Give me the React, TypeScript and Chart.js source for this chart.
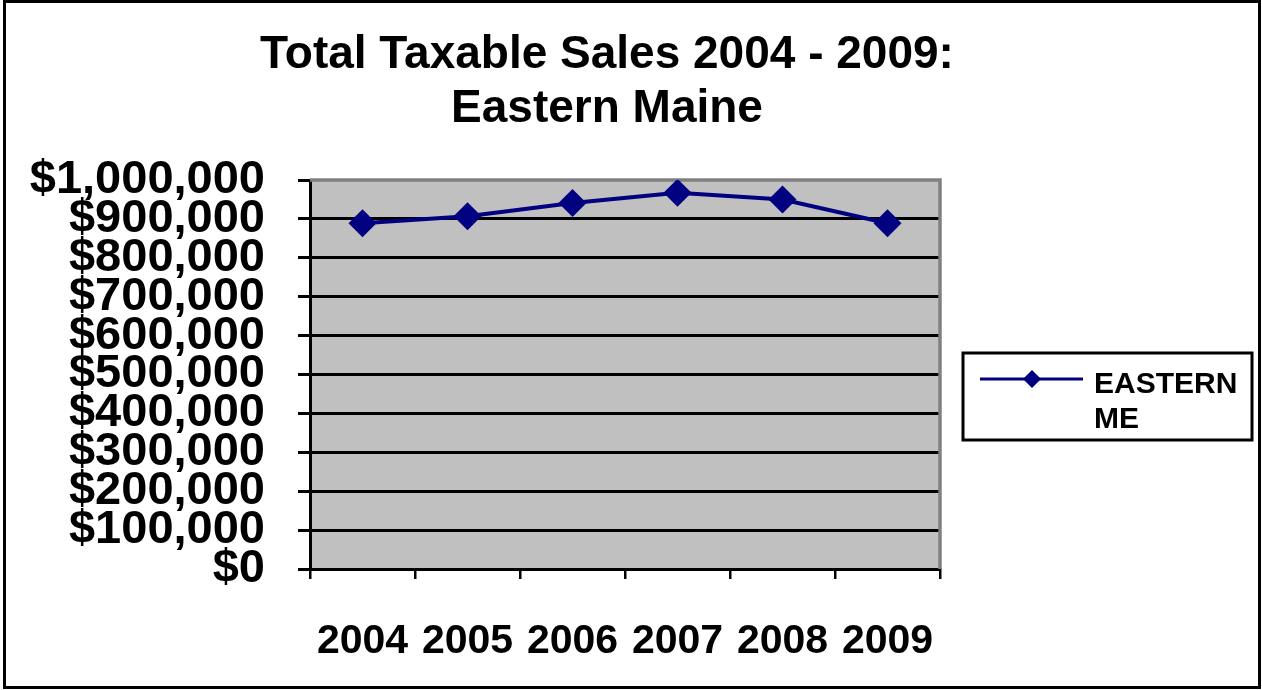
import React, { useEffect, useRef } from "react";
import { Chart, registerables } from "chart.js";

Chart.register(...registerables);

const categories = ["2004", "2005", "2006", "2007", "2008", "2009"];
const easternMe = [889000, 907000, 941000, 967000, 950000, 889000];
const seriesLabel = "EASTERN ME";
const titleLines = ["Total Taxable Sales 2004 - 2009:", "Eastern Maine"];
const yTickValues = [0, 100000, 200000, 300000, 400000, 500000, 600000, 700000, 800000, 900000, 1000000];

const FONT = "'Liberation Sans', Arial, Helvetica, sans-serif";
const NAVY = "#000080";

const framePlugin = {
  id: "frame",
  beforeDraw(chart: any) {
    const { ctx, width, height, chartArea } = chart;
    ctx.save();
    ctx.fillStyle = "#ffffff";
    ctx.fillRect(0, 0, width, height);
    ctx.fillStyle = "#c0c0c0";
    ctx.fillRect(chartArea.left, chartArea.top, chartArea.right - chartArea.left, chartArea.bottom - chartArea.top);
    ctx.restore();
  },
  beforeDatasetsDraw(chart: any) {
    const { ctx, chartArea } = chart;
    ctx.save();
    ctx.strokeStyle = "#808080";
    ctx.lineWidth = 3.5;
    ctx.beginPath();
    ctx.moveTo(chartArea.left, chartArea.top);
    ctx.lineTo(chartArea.right, chartArea.top);
    ctx.lineTo(chartArea.right, chartArea.bottom);
    ctx.stroke();
    ctx.restore();
  },
  afterDraw(chart: any) {
    const { ctx } = chart;
    ctx.save();
    // title
    ctx.fillStyle = "#000000";
    ctx.font = `bold 46px ${FONT}`;
    ctx.textAlign = "center";
    ctx.textBaseline = "alphabetic";
    titleLines.forEach((t, i) => ctx.fillText(t, 607, 68 + i * 54));
    // outer border
    ctx.strokeStyle = "#000000";
    ctx.lineWidth = 3;
    ctx.strokeRect(4.5, 1.5, 1255, 686);
    // legend box
    const bx = 963, by = 353, bw = 289, bh = 87;
    ctx.fillStyle = "#ffffff";
    ctx.fillRect(bx, by, bw, bh);
    ctx.lineWidth = 3;
    ctx.strokeRect(bx, by, bw, bh);
    // legend line + marker
    const ly = 379;
    ctx.strokeStyle = NAVY;
    ctx.lineWidth = 3;
    ctx.beginPath();
    ctx.moveTo(980, ly);
    ctx.lineTo(1083, ly);
    ctx.stroke();
    ctx.fillStyle = NAVY;
    ctx.beginPath();
    ctx.moveTo(1032, ly - 9);
    ctx.lineTo(1041, ly);
    ctx.lineTo(1032, ly + 9);
    ctx.lineTo(1023, ly);
    ctx.closePath();
    ctx.fill();
    // legend text
    const label = chart.data.datasets[0].label as string;
    const parts = label.split(" ");
    ctx.fillStyle = "#000000";
    ctx.font = `bold 30px ${FONT}`;
    ctx.textAlign = "left";
    ctx.textBaseline = "alphabetic";
    parts.forEach((p, i) => ctx.fillText(p, 1094, 393 + i * 35));
    ctx.restore();
  },
};

export default function App() {
  const ref = useRef<HTMLCanvasElement>(null);
  useEffect(() => {
    if (!ref.current) return;
    const chart = new Chart(ref.current, {
      type: "line",
      data: {
        labels: categories,
        datasets: [
          {
            label: seriesLabel,
            data: easternMe,
            borderColor: NAVY,
            backgroundColor: NAVY,
            borderWidth: 4,
            pointStyle: "rectRot",
            pointRadius: 14,
            pointBackgroundColor: NAVY,
            pointBorderColor: NAVY,
            pointBorderWidth: 0,
            tension: 0,
          },
        ],
      },
      options: {
        animation: false,
        responsive: false,
        layout: { padding: { left: 0, right: 322, top: 180, bottom: 0 } },
        plugins: {
          legend: { display: false },
          tooltip: { enabled: false },
          title: { display: false },
        },
        scales: {
          x: {
            type: "category",
            offset: true,
            grid: {
              offset: true,
              drawOnChartArea: false,
              drawTicks: true,
              tickLength: 10,
              color: "#000000",
              lineWidth: 2.5,
            },
            border: { display: true, color: "#000000", width: 3 },
            ticks: {
              color: "#000000",
              font: { family: FONT, size: 41, weight: "bold" },
              padding: 38,
              maxRotation: 0,
              autoSkip: false,
            },
            afterFit(scale: any) {
              scale.height = 121;
            },
          },
          y: {
            type: "linear",
            min: 0,
            max: 1000000,
            afterBuildTicks(scale: any) {
              scale.ticks = yTickValues.map((v) => ({ value: v }));
            },
            grid: {
              color: (c: any) => (c.tick && c.tick.value === 1000000 ? "rgba(0,0,0,0)" : "#000000"),
              tickColor: "#000000",
              lineWidth: 3,
              tickLength: 12,
            },
            border: { display: true, color: "#000000", width: 3 },
            ticks: {
              color: "#000000",
              font: { family: FONT, size: 47, weight: "bold", lineHeight: 1 },
              padding: 33,
              autoSkip: false,
              callback: (v: any) => "$" + Number(v).toLocaleString("en-US"),
            },
            afterFit(scale: any) {
              scale.width = 310;
            },
          },
        },
      },
      plugins: [framePlugin],
    });
    return () => chart.destroy();
  }, []);

  return (
    <div style={{ position: "absolute", left: 0, top: 0, width: 1262, height: 690 }}>
      <canvas ref={ref} width={1262} height={690} style={{ display: "block" }} />
    </div>
  );
}
